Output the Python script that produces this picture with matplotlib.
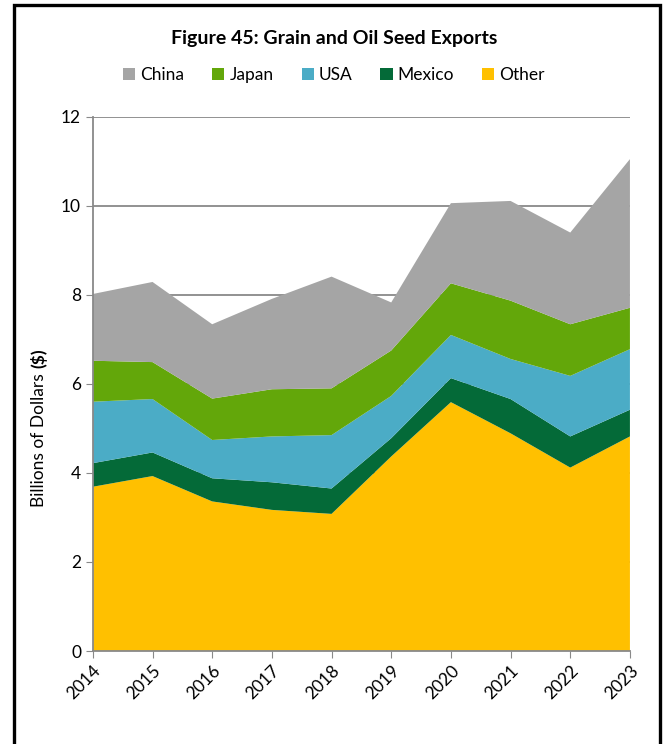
import matplotlib.pyplot as plt
from matplotlib.patches import Patch, Rectangle

years = [2014, 2015, 2016, 2017, 2018, 2019, 2020, 2021, 2022, 2023]

# exports by destination, billions of dollars
other = [3.69, 3.93, 3.36, 3.17, 3.08, 4.37, 5.59, 4.89, 4.12, 4.82]
mexico = [0.53, 0.53, 0.52, 0.62, 0.57, 0.41, 0.54, 0.77, 0.70, 0.60]
usa = [1.38, 1.20, 0.86, 1.03, 1.20, 0.95, 0.97, 0.90, 1.36, 1.36]
japan = [0.92, 0.83, 0.93, 1.06, 1.05, 1.02, 1.16, 1.31, 1.16, 0.93]
china = [1.50, 1.80, 1.67, 2.03, 2.51, 1.08, 1.80, 2.24, 2.06, 3.34]

names = ["China", "Japan", "USA", "Mexico", "Other"]
colors = {"China": "#A5A5A5", "Japan": "#63A70A", "USA": "#4BACC6",
          "Mexico": "#046A38", "Other": "#FFC000"}

plt.rcParams['font.family'] = ['Lato', 'DejaVu Sans']

fig = plt.figure(figsize=(6.68, 7.44), dpi=100)
ax = fig.add_axes([0.139, 0.125, 0.804, 0.718])

# stack from the bottom up
stack_order = ["Other", "Mexico", "USA", "Japan", "China"]
series = {"Other": other, "Mexico": mexico, "USA": usa, "Japan": japan, "China": china}
ax.stackplot(years, [series[n] for n in stack_order],
             colors=[colors[n] for n in stack_order], zorder=2)

ax.set_xlim(2014, 2023)
ax.set_ylim(0, 12)
ax.set_yticks(range(0, 13, 2))
ax.set_xticks(years)
ax.set_xticklabels([str(y) for y in years], rotation=45, ha='right',
                   rotation_mode='anchor', fontsize=12.5)
ax.tick_params(axis='y', labelsize=12.5, color='#898989', length=5)
ax.tick_params(axis='x', color='#898989', length=5)
ax.grid(axis='y', color='#898989', linewidth=1.3, zorder=0)
ax.set_axisbelow(True)
for s in ['top', 'right']:
    ax.spines[s].set_visible(False)
for s in ['left', 'bottom']:
    ax.spines[s].set_color('#898989')
    ax.spines[s].set_linewidth(1.3)

# y label with bold units
lab_x = 0.058
fig.text(lab_x, 0.505, "Billions of Dollars ", rotation=90, ha='center',
         va='top', fontsize=12.5)
fig.text(lab_x, 0.505, "($)", rotation=90, ha='center', va='bottom',
         fontsize=12.5, fontweight='bold')

fig.text(0.5, 0.948, "Figure 45: Grain and Oil Seed Exports", ha='center',
         va='center', fontsize=14, fontweight='bold')

handles = [Patch(facecolor=colors[n], label=n) for n in names]
fig.legend(handles=handles, loc='center', bbox_to_anchor=(0.5, 0.899), ncol=5,
           frameon=False, fontsize=12.5, handlelength=0.7, handleheight=0.7,
           handletextpad=0.3, columnspacing=1.6)

# outer frame
fig.patches.append(Rectangle((0.021, -0.01), 0.967, 1.003, transform=fig.transFigure,
                             fill=False, edgecolor='black', linewidth=2.4))

fig.savefig("out.png", dpi=100)
